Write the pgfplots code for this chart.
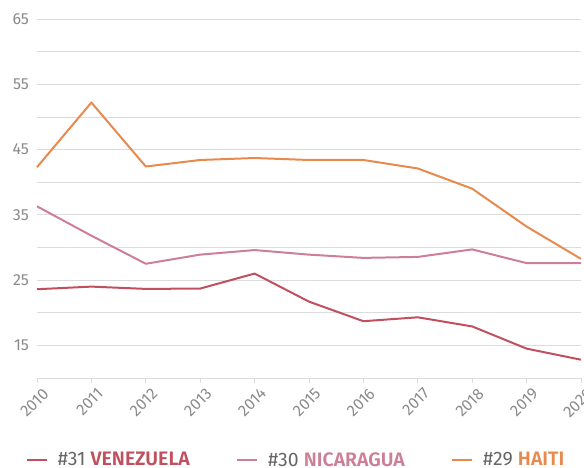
\documentclass[border=0pt]{standalone}
\usepackage{fontspec}
\setmainfont{Fira Sans}[BoldFont={Fira Sans SemiBold}]
\usepackage{pgfplots}
\pgfplotsset{compat=1.18}
\definecolor{ven}{HTML}{C0505F}
\definecolor{nic}{HTML}{CC7F96}
\definecolor{hai}{HTML}{E8894E}
\definecolor{tickc}{HTML}{8A8A8A}
\definecolor{gridc}{HTML}{DCDCDC}
\definecolor{lab}{HTML}{666666}
\begin{document}
\begin{tikzpicture}
\begin{axis}[
  scale only axis,
  width=544pt, height=359pt,
  xmin=2010, xmax=2020, ymin=10, ymax=65,
  axis x line=bottom, axis y line=left,
  x axis line style={draw=gridc, line width=0.8pt, -},
  y axis line style={draw=none},
  xtick={2010,...,2020},
  ytick={15,25,35,45,55,65},
  minor ytick={20,30,40,50,60},
  ymajorgrids, yminorgrids, xmajorgrids=false,
  major grid style={draw=gridc, line width=0.8pt},
  minor grid style={draw=gridc, line width=0.8pt},
  ytick style={draw=none},
  minor y tick style={draw=none},
  xtick style={draw=gridc, line width=0.8pt},
  xtick align=outside,
  major tick length=5pt,
  x tick label style={/pgf/number format/1000 sep={}, rotate=45, anchor=north east, font=\fontsize{16}{16}\selectfont, text=tickc, xshift=4pt, yshift=-3pt},
  y tick label style={font=\fontsize{16}{16}\selectfont, text=tickc, xshift=-2pt},
  /pgf/number format/assume math mode=true,
  legend style={at={(0.476,-0.2284)}, anchor=center, draw=none, fill=none, legend columns=3,
    font=\fontsize{19.5}{19.5}\selectfont, inner sep=0pt,
    /tikz/every even column/.append style={column sep=44pt}},
  legend image code/.code={\draw[#1, line width=2.6pt] (0pt,0pt) -- (20pt,0pt); \path (28pt,0pt);},
  every axis plot/.append style={line width=2pt, line join=round},
  clip=false,
]
\addplot[ven] coordinates {(2010,23.6) (2011,24.0) (2012,23.65) (2013,23.7) (2014,26.0) (2015,21.7) (2016,18.7) (2017,19.3) (2018,17.9) (2019,14.5) (2020,12.8)};
\addlegendentry{\textcolor{lab}{\#31} \textcolor{ven}{\bfseries VENEZUELA}}
\addplot[nic] coordinates {(2010,36.3) (2011,31.8) (2012,27.5) (2013,28.9) (2014,29.6) (2015,28.9) (2016,28.4) (2017,28.55) (2018,29.7) (2019,27.6) (2020,27.6)};
\addlegendentry{\textcolor{lab}{\#30} \textcolor{nic}{\bfseries NICARAGUA}}
\addplot[hai] coordinates {(2010,42.3) (2011,52.2) (2012,42.4) (2013,43.4) (2014,43.7) (2015,43.4) (2016,43.4) (2017,42.1) (2018,39.0) (2019,33.2) (2020,28.25)};
\addlegendentry{\textcolor{lab}{\#29} \textcolor{hai}{\bfseries HAITI}}
\end{axis}
\pgfresetboundingbox
\path[use as bounding box] (-37pt,-90pt) rectangle (547pt,378pt);
\end{tikzpicture}
\end{document}
